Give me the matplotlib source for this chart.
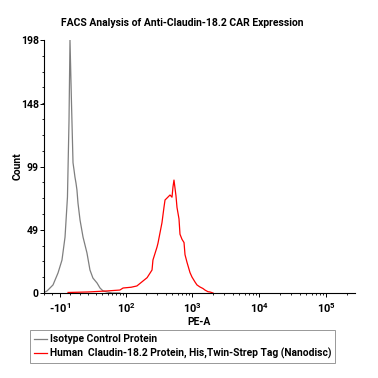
import numpy as np
import matplotlib
matplotlib.use("Agg")
import matplotlib.pyplot as plt

plt.rcParams['font.family'] = ['Roboto', 'DejaVu Sans']
plt.rcParams['font.weight'] = 'bold'
plt.rcParams['mathtext.fontset'] = 'custom'
plt.rcParams['mathtext.rm'] = 'Roboto:bold'
plt.rcParams['mathtext.bf'] = 'Roboto:bold'
plt.rcParams['mathtext.default'] = 'bf'

# isotype control histogram (PE-A, count)
iso_x = [-30, -26, -18.4, -12.6, -8.3, -5.1, -2.6, -1.0, 0, 1.5, 3.1, 4.2, 5.1,
         6.2, 7.2, 8.3, 10.5, 13.8, 18.4, 22.1, 26.0, 31.9, 36.5, 41.6, 49, 60, 80]
iso_y = [0.5, 1.6, 6.3, 15.7, 25.8, 43.8, 75, 135, 198, 150, 102, 96, 90.8,
         86, 80.6, 70.4, 57.1, 43.8, 31.3, 18, 11.7, 7.8, 3.9, 1.6, 0.8, 0, 0]

# Claudin-18.2 protein histogram
cld_x = [-2, 20, 49, 80, 90, 120, 147, 210, 249, 257, 296, 306, 351, 376, 390,
         417, 463, 496, 513, 531, 569, 589, 631, 653, 700, 750, 776, 831, 921,
         986, 1094, 1171, 1298, 1440, 1541, 1709, 1830, 2030]
cld_y = [0.4, 0.8, 1.6, 2.3, 3.9, 4.5, 5.5, 12, 18, 25.8, 36, 39, 55, 67, 72.8,
         74.3, 76.7, 75, 83, 88.4, 76, 67, 58, 46, 42, 39.5, 30, 24, 16,
         12.5, 8.6, 6.3, 4.7, 3.5, 2.3, 1.0, 0.8, 0]

xticks = [-10, 100, 1000, 10000, 100000]
xticklabels = ['-$10^{1}$', '$10^{2}$', '$10^{3}$', '$10^{4}$', '$10^{5}$']
yticks = [0, 49, 99, 148, 198]

W = 29.8
def fwd(x):
    return np.arcsinh(np.asarray(x, dtype=float) / W)
def inv(y):
    return W * np.sinh(np.asarray(y, dtype=float))

fig = plt.figure(figsize=(3.78, 3.78), dpi=100)
ax = fig.add_axes([0.1164, 0.2249, 0.939 - 0.1164, 0.894 - 0.2249])
ax.set_xscale('function', functions=(fwd, inv))

l1, = ax.plot(iso_x, iso_y, color='#7f7f7f', lw=0.9)
l2, = ax.plot(cld_x, cld_y, color='#ff0000', lw=0.9)

ax.set_xlim(-30.3, 2.67e5)
ax.set_ylim(0, 198)

ax.set_xticks(xticks)
ax.set_xticklabels(xticklabels, fontsize=8)
minor = list(range(-30, 100, 10)) + [m * 10 ** k for k in (2, 3, 4) for m in range(2, 10)] + [200000]
ax.set_xticks(minor, minor=True)
ax.set_yticks(yticks)
ax.set_yticklabels([str(v) for v in yticks], fontsize=7.5)
ax.set_yticks(np.arange(0, 199, 198 / 16.0), minor=True)
ax.tick_params(axis='both', which='major', length=3, width=0.7, pad=0.8)
ax.tick_params(axis='both', which='minor', length=1.5, width=0.6)
ax.tick_params(axis='x', which='major', pad=3)

for s in ['top', 'right']:
    ax.spines[s].set_visible(False)
for s in ['left', 'bottom']:
    ax.spines[s].set_linewidth(0.8)

fig.text(182 / 378, 1 - 23 / 378, 'FACS Analysis of Anti-Claudin-18.2 CAR Expression',
         fontsize=7.5, fontweight='bold', ha='center', va='center')
ax.set_xlabel('PE-A', fontsize=7.5, fontweight='bold', labelpad=1)
ax.set_ylabel('Count', fontsize=7.5, fontweight='bold')
ax.yaxis.set_label_coords(-(44 - 23) / 311.0, 0.5)

leg = fig.legend([l1, l2], ['Isotype Control Protein',
                            'Human  Claudin-18.2 Protein, His,Twin-Strep Tag (Nanodisc)'],
                 loc='upper left', bbox_to_anchor=(30 / 378, 1 - 330 / 378),
                 fontsize=7.4, frameon=True, fancybox=False, handlelength=1.3,
                 handletextpad=0.2, borderpad=0.4, labelspacing=0.35,
                 borderaxespad=0)
leg.get_frame().set_edgecolor('#7f7f7f')
leg.get_frame().set_linewidth(0.7)

fig.savefig('out.png', dpi=100)
